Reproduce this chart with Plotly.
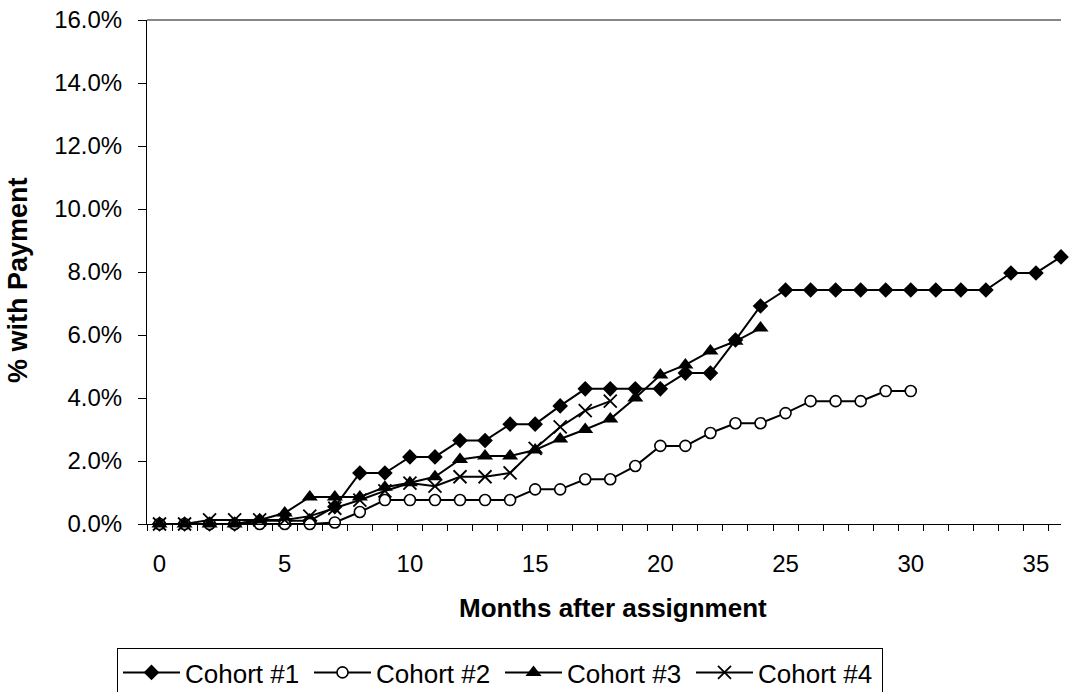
import plotly.graph_objects as go

# Months since assignment and cumulative share (%) of each cohort with a payment
months = list(range(0, 37))

cohort1 = [0.0, 0.0, 0.0, 0.0, 0.1, 0.1, 0.1, 0.55, 1.62, 1.62, 2.13, 2.13,
           2.65, 2.65, 3.17, 3.17, 3.75, 4.29, 4.29, 4.29, 4.29, 4.79, 4.79,
           5.84, 6.92, 7.43, 7.43, 7.43, 7.43, 7.43, 7.43, 7.43, 7.43, 7.43,
           7.97, 7.97, 8.48]
cohort2 = [0.0, 0.0, 0.0, 0.0, 0.0, 0.0, 0.0, 0.05, 0.38, 0.76, 0.76, 0.76,
           0.76, 0.76, 0.76, 1.1, 1.1, 1.42, 1.42, 1.84, 2.48, 2.48, 2.89,
           3.2, 3.2, 3.52, 3.9, 3.9, 3.9, 4.22, 4.22]
cohort3 = [0.0, 0.0, 0.0, 0.0, 0.13, 0.35, 0.86, 0.86, 0.86, 1.17, 1.31, 1.5,
           2.05, 2.16, 2.16, 2.35, 2.7, 3.0, 3.33, 4.0, 4.73, 5.05, 5.49, 5.8,
           6.22]
cohort4 = [0.0, 0.0, 0.13, 0.13, 0.13, 0.13, 0.25, 0.5, 0.76, 1.05, 1.3, 1.2,
           1.5, 1.5, 1.62, 2.4, 3.08, 3.6, 3.9]

x_tick_labels = [0, 5, 10, 15, 20, 25, 30, 35]

series = [
    ("Cohort #1", cohort1, dict(symbol="diamond", size=12, color="black")),
    ("Cohort #2", cohort2, dict(symbol="circle", size=11, color="white",
                                line=dict(color="black", width=1.6))),
    ("Cohort #3", cohort3, dict(symbol="triangle-up", size=14, color="black")),
    ("Cohort #4", cohort4, dict(symbol="x-thin-open", size=13, color="black",
                                line=dict(color="black", width=1.8))),
]

FONT = "Liberation Sans, Arial, sans-serif"

fig = go.Figure()
for name, vals, marker in series:
    fig.add_trace(go.Scatter(
        x=months[:len(vals)], y=vals, name=name, mode="lines+markers",
        line=dict(color="black", width=2), marker=marker, cliponaxis=False,
    ))

fig.update_layout(
    width=1073, height=692,
    margin=dict(l=147, r=12, t=20, b=168),
    paper_bgcolor="white", plot_bgcolor="white",
    font=dict(family=FONT, size=24, color="black"),
    showlegend=True,
    legend=dict(
        orientation="h", xref="container", yref="container",
        x=117 / 1073, xanchor="left", y=1 - 648 / 692, yanchor="top",
        bordercolor="black", borderwidth=1, bgcolor="white",
        entrywidth=119, entrywidthmode="pixels", itemwidth=57,
        font=dict(family=FONT, size=26),
    ),
    shapes=[dict(type="line", xref="paper", yref="paper", x0=0, x1=1, y0=1, y1=1,
                 line=dict(color="#888888", width=2))],
    annotations=[
        dict(text="<b>Months after assignment</b>", xref="paper", yref="paper",
             x=(613 - 147) / 914, y=(524 - 608) / 504, xanchor="center",
             yanchor="middle", showarrow=False,
             font=dict(family=FONT, size=26)),
        dict(text="<b>% with Payment</b>", xref="paper", yref="paper",
             x=(18 - 147) / 914, y=(524 - 280) / 504, xanchor="center",
             yanchor="middle", textangle=-90, showarrow=False,
             font=dict(family=FONT, size=27)),
    ],
)

fig.update_xaxes(
    range=[-0.5, 36.0], automargin=False,
    tickmode="array", tickvals=x_tick_labels,
    ticks="", ticklabelstandoff=18,
    minor=dict(tickmode="linear", tick0=-0.5, dtick=1, ticks="outside",
               ticklen=6, tickcolor="black", tickwidth=1, showgrid=False),
    showline=True, linecolor="black", linewidth=1,
    showgrid=False, zeroline=False,
)

fig.update_yaxes(
    range=[0, 16], dtick=2, tickformat=".1f", ticksuffix="%", automargin=False,
    ticks="outside", ticklen=8, tickcolor="black", ticklabelstandoff=11,
    showline=True, linecolor="black", linewidth=1,
    showgrid=False, zeroline=False,
)

fig.write_html("out.html")
